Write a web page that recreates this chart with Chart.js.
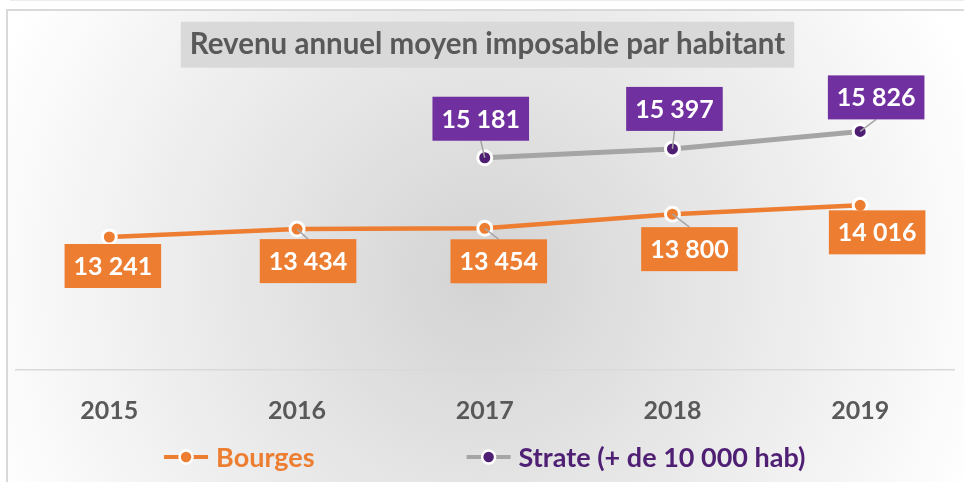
<!DOCTYPE html>
<html>
<head>
<meta charset="utf-8">
<script src="https://cdn.jsdelivr.net/npm/chart.js@4.4.0/dist/chart.umd.min.js"></script>
<style>
  html, body { margin: 0; padding: 0; background: #fff; }
  canvas { display: block; }
</style>
</head>
<body>
<canvas id="myChart" width="964" height="482"></canvas>
<script>
// data
const years = ['2015', '2016', '2017', '2018', '2019'];
const bourges = [13241, 13434, 13454, 13800, 14016];
const strate = [null, null, 15181, 15397, 15826];
const seriesNames = ['Bourges', 'Strate (+ de 10 000 hab)'];
const chartTitle = 'Revenu annuel moyen imposable par habitant';

const FONT = 'Lato, "Open Sans", sans-serif';
const GREY_TEXT = '#595959';
const ORANGE = '#ED7D31';
const PURPLE_BOX = '#7030A0';
const PURPLE_DOT = '#4F1F74';
const LINE_GREY = '#A5A5A5';
const TITLE_PAD = { top: 27, bottom: 0.6 };
const TITLE_SIZE = 29.5;

function fmt(v) {
  return String(v).replace(/\B(?=(\d{3})+(?!\d))/g, ' ');
}

// background gradient, frame and grey box behind the title
const backdrop = {
  id: 'backdrop',
  beforeDraw(chart) {
    const { ctx, width, height } = chart;
    ctx.save();
    ctx.fillStyle = '#fff';
    ctx.fillRect(0, 0, width, height);
    const cx = width * 0.5, cy = height * 0.58;
    const g = ctx.createRadialGradient(cx, cy, 0, cx, cy, width * 0.55);
    g.addColorStop(0, '#d3d3d3');
    g.addColorStop(1, '#ffffff');
    ctx.fillStyle = g;
    ctx.fillRect(8, 11, width - 8, height - 11);

    ctx.strokeStyle = '#d9d9d9';
    ctx.lineWidth = 2;
    ctx.beginPath();
    ctx.moveTo(7, height);
    ctx.lineTo(7, 10);
    ctx.lineTo(width, 10);
    ctx.stroke();
    ctx.strokeStyle = '#ececec';
    ctx.lineWidth = 1;
    ctx.beginPath();
    ctx.moveTo(10, 0.5);
    ctx.lineTo(width, 0.5);
    ctx.stroke();

    const t = chart.titleBlock;
    if (t) {
      ctx.font = 'bold ' + TITLE_SIZE + 'px ' + FONT;
      const w = ctx.measureText(chartTitle).width;
      const tx = (t.left + t.right) / 2;
      const ty = t.top + TITLE_PAD.top + TITLE_SIZE * 0.6;
      ctx.fillStyle = '#d9d9d9';
      ctx.fillRect(tx - w / 2 - 9, ty - 23, w + 18, 46);
    }
    ctx.restore();
  }
};

// value boxes with leader lines
const valueBoxes = {
  id: 'valueBoxes',
  afterDatasetsDraw(chart) {
    const ctx = chart.ctx;
    ctx.save();
    ctx.font = 'bold 25px ' + FONT;
    ctx.textAlign = 'center';
    ctx.textBaseline = 'middle';
    chart.data.datasets.forEach((ds, i) => {
      const meta = chart.getDatasetMeta(i);
      meta.data.forEach((pt, j) => {
        const v = ds.data[j];
        if (v == null) return;
        const off = ds.labelOffsets[j];
        const txt = fmt(v);
        const w = ctx.measureText(txt).width + 18, h = 44;
        const bx = pt.x + off[0], by = pt.y + off[1];
        if (ds.leaders[j]) {
          const ey = off[1] > 0 ? by - h / 2 : by + h / 2;
          ctx.strokeStyle = '#a6a6a6';
          ctx.lineWidth = 1.5;
          ctx.beginPath();
          ctx.moveTo(pt.x, pt.y);
          ctx.lineTo(bx, ey);
          ctx.stroke();
        }
        ctx.fillStyle = ds.labelBox;
        ctx.fillRect(bx - w / 2, by - h / 2, w, h);
        ctx.fillStyle = '#fff';
        ctx.fillText(txt, bx, by + 1);
      });
    });
    ctx.restore();
  }
};

// legend row: line + marker, coloured text
const legendRow = {
  id: 'legendRow',
  afterDraw(chart) {
    const ctx = chart.ctx;
    ctx.save();
    ctx.font = 'bold 27px ' + FONT;
    const sym = 44, gapT = 8, gapI = 152;
    const items = chart.data.datasets.map(ds => ({ ds, tw: ctx.measureText(ds.label).width }));
    let total = gapI * (items.length - 1);
    items.forEach(it => { total += sym + gapT + it.tw; });
    let x = (chart.chartArea.left + chart.chartArea.right) / 2 - total / 2;
    const y = chart.height - 25;
    items.forEach(it => {
      ctx.strokeStyle = it.ds.borderColor;
      ctx.lineWidth = 4;
      ctx.beginPath();
      ctx.moveTo(x, y);
      ctx.lineTo(x + sym, y);
      ctx.stroke();
      ctx.beginPath();
      ctx.arc(x + sym / 2, y, 6.5, 0, Math.PI * 2);
      ctx.fillStyle = it.ds.pointBackgroundColor;
      ctx.fill();
      ctx.strokeStyle = '#fff';
      ctx.lineWidth = 2.5;
      ctx.stroke();
      ctx.fillStyle = it.ds.legendColor;
      ctx.textAlign = 'left';
      ctx.textBaseline = 'middle';
      ctx.fillText(it.ds.label, x + sym + gapT, y + 1);
      x += sym + gapT + it.tw + gapI;
    });
    ctx.restore();
  }
};

const init = function () {
  const ctx = document.getElementById('myChart').getContext('2d');
  new Chart(ctx, {
    type: 'line',
    data: {
      labels: years,
      datasets: [{
        label: seriesNames[0],
        data: bourges,
        borderColor: ORANGE,
        borderWidth: 4.5,
        pointRadius: 7,
        pointBorderWidth: 3,
        pointBackgroundColor: ORANGE,
        pointBorderColor: '#fff',
        labelBox: ORANGE,
        legendColor: ORANGE,
        labelOffsets: [[3.5, 29], [11, 32], [14, 33], [17, 35], [17, 27]],
        leaders: [false, true, true, true, false]
      }, {
        label: seriesNames[1],
        data: strate,
        borderColor: LINE_GREY,
        borderWidth: 5,
        pointRadius: 7,
        pointBorderWidth: 3,
        pointBackgroundColor: PURPLE_DOT,
        pointBorderColor: '#fff',
        labelBox: PURPLE_BOX,
        legendColor: PURPLE_DOT,
        labelOffsets: [null, null, [-4, -39], [2, -40], [16, -34]],
        leaders: [false, false, true, true, true]
      }]
    },
    options: {
      responsive: false,
      animation: false,
      layout: { padding: { left: 15.5, right: 4.5, top: 0, bottom: 28.6 } },
      plugins: {
        legend: { display: false },
        tooltip: { enabled: false },
        title: {
          display: true,
          text: chartTitle,
          color: GREY_TEXT,
          font: { family: FONT, size: TITLE_SIZE, weight: 'bold' },
          padding: TITLE_PAD
        }
      },
      scales: {
        x: {
          offset: true,
          grid: { display: false, drawTicks: false },
          border: { display: true, color: '#d9d9d9', width: 1.5 },
          ticks: {
            color: GREY_TEXT,
            font: { family: FONT, size: 25, weight: 'bold' },
            padding: 27
          }
        },
        y: { display: false, min: 10000, max: 17500 }
      }
    },
    plugins: [backdrop, valueBoxes, legendRow]
  });
};

document.addEventListener('DOMContentLoaded', init);
</script>
</body>
</html>
